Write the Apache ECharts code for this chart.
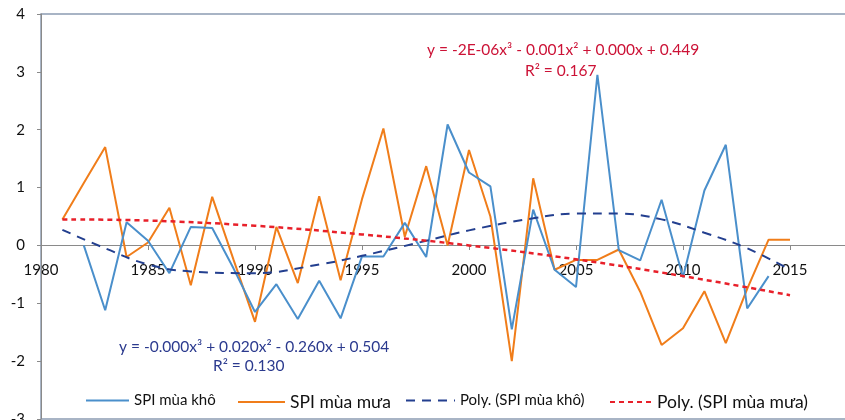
<!DOCTYPE html>
<html>
<head>
<meta charset="utf-8">
<script src="https://cdn.jsdelivr.net/npm/echarts@6/dist/echarts.min.js"></script>
<style>
html,body{margin:0;padding:0;background:#fff;}
#c{width:845px;height:420px;}
</style>
</head>
<body>
<div id="c"></div>
<script>
// ---- data ----
var years = [1981,1982,1983,1984,1985,1986,1987,1988,1989,1990,1991,1992,1993,1994,1995,1996,1997,1998,1999,2000,2001,2002,2003,2004,2005,2006,2007,2008,2009,2010,2011,2012,2013,2014,2015];
var spiKho = [null,0.0,-1.12,0.40,0.08,-0.48,0.32,0.30,-0.40,-1.15,-0.67,-1.27,-0.61,-1.26,-0.19,-0.19,0.39,-0.20,2.09,1.26,1.02,-1.45,0.62,-0.42,-0.72,2.95,-0.08,-0.26,0.79,-0.55,0.95,1.74,-1.09,-0.53,null];
var spiMua = [0.45,1.08,1.70,-0.20,0.05,0.65,-0.69,0.84,-0.25,-1.32,0.32,-0.65,0.85,-0.60,0.80,2.02,0.15,1.37,0.00,1.65,0.50,-2.00,1.16,-0.42,-0.25,-0.25,-0.07,-0.80,-1.72,-1.43,-0.79,-1.69,-0.75,0.10,0.10];
var polyKhoYears = [1981,1983,1985,1987,1990,1993,1995,1998,2000,2003,2005,2007,2009,2011,2013,2015];
var polyKho = [0.27,-0.05,-0.33,-0.45,-0.48,-0.33,-0.18,0.08,0.26,0.47,0.55,0.55,0.45,0.22,-0.05,-0.42];
var polyMuaYears = [1981,1985,1990,1995,2000,2005,2010,2015];
var polyMua = [0.45,0.43,0.34,0.19,0.00,-0.24,-0.53,-0.86];
var seriesNames = ['SPI mùa khô','SPI mùa mưa','Poly. (SPI mùa khô)','Poly. (SPI mùa mưa)'];
var eqMua = ['y = -2E-06x³ - 0.001x² + 0.000x + 0.449','R² = 0.167'];
var eqKho = ['y = -0.000x³ + 0.020x² - 0.260x + 0.504','R² = 0.130'];

function pairs(xs, ys){ return xs.map(function(x,i){ return [x, ys[i]]; }); }

var FONT = 'Lato, "Open Sans", sans-serif';
var chart = echarts.init(document.getElementById('c'), null, {renderer:'canvas'});

function legendAt(name, left, w, size){
  return {
    data:[name], left:left, top:393, itemWidth:w, itemHeight:14, padding:0, itemGap:0,
    textStyle:{fontFamily:FONT, fontSize:size, color:'#111'},
    itemStyle:{opacity:0}
  };
}

chart.setOption({
  animation:false,
  grid:{left:41, top:14, right:-52, bottom:1, containLabel:false, outerBoundsMode:'none',
        show:true, borderColor:'#8c9cb2', borderWidth:1.5, backgroundColor:'transparent'},
  xAxis:{
    type:'value', min:1980, max:2020, interval:5, position:'bottom', offset:-174,
    axisLine:{onZero:false, lineStyle:{color:'#8a8a8a', width:1}},
    axisTick:{show:true, length:5, lineStyle:{color:'#8a8a8a'}},
    axisLabel:{fontFamily:FONT, fontSize:15, color:'#111', margin:18, formatter:function(v){return String(v);}},
    splitLine:{show:false}
  },
  yAxis:{
    type:'value', min:-3, max:4, interval:1,
    axisLine:{show:true, lineStyle:{color:'#8a8a8a', width:1}},
    axisTick:{show:true, length:4, lineStyle:{color:'#8a8a8a'}},
    axisLabel:{fontFamily:FONT, fontSize:15, color:'#111', margin:16},
    splitLine:{show:false}
  },
  legend:[
    legendAt(seriesNames[0], 85, 43, 15),
    legendAt(seriesNames[1], 237, 47, 17.5),
    legendAt(seriesNames[2], 405, 49, 15),
    legendAt(seriesNames[3], 609, 42, 17.5)
  ],
  series:[
    {name:seriesNames[0], type:'line', data:pairs(years, spiKho), symbol:'none', connectNulls:false,
     lineStyle:{color:'#4a8fcb', width:2}, itemStyle:{color:'#4a8fcb'}, z:3},
    {name:seriesNames[1], type:'line', data:pairs(years, spiMua), symbol:'none',
     lineStyle:{color:'#f07d1a', width:2}, itemStyle:{color:'#f07d1a'}, z:2},
    {name:seriesNames[2], type:'line', data:pairs(polyKhoYears, polyKho), symbol:'none', smooth:0.4,
     lineStyle:{color:'#233f8f', width:2, type:[9,7]}, itemStyle:{color:'#233f8f'}, z:4},
    {name:seriesNames[3], type:'line', data:pairs(polyMuaYears, polyMua), symbol:'none', smooth:0.4,
     lineStyle:{color:'#e8202a', width:2.5, type:[5,4]}, itemStyle:{color:'#e8202a'}, z:5}
  ],
  graphic:[
    {type:'text', left:427, top:42, style:{text:eqMua[0], font:'15.5px '+FONT, fill:'#cc1236'}},
    {type:'text', left:525, top:63, style:{text:eqMua[1], font:'15.5px '+FONT, fill:'#cc1236'}},
    {type:'text', left:119, top:339, style:{text:eqKho[0], font:'15.5px '+FONT, fill:'#2b3a8e'}},
    {type:'text', left:213, top:358, style:{text:eqKho[1], font:'15.5px '+FONT, fill:'#2b3a8e'}}
  ]
});
</script>
</body>
</html>
